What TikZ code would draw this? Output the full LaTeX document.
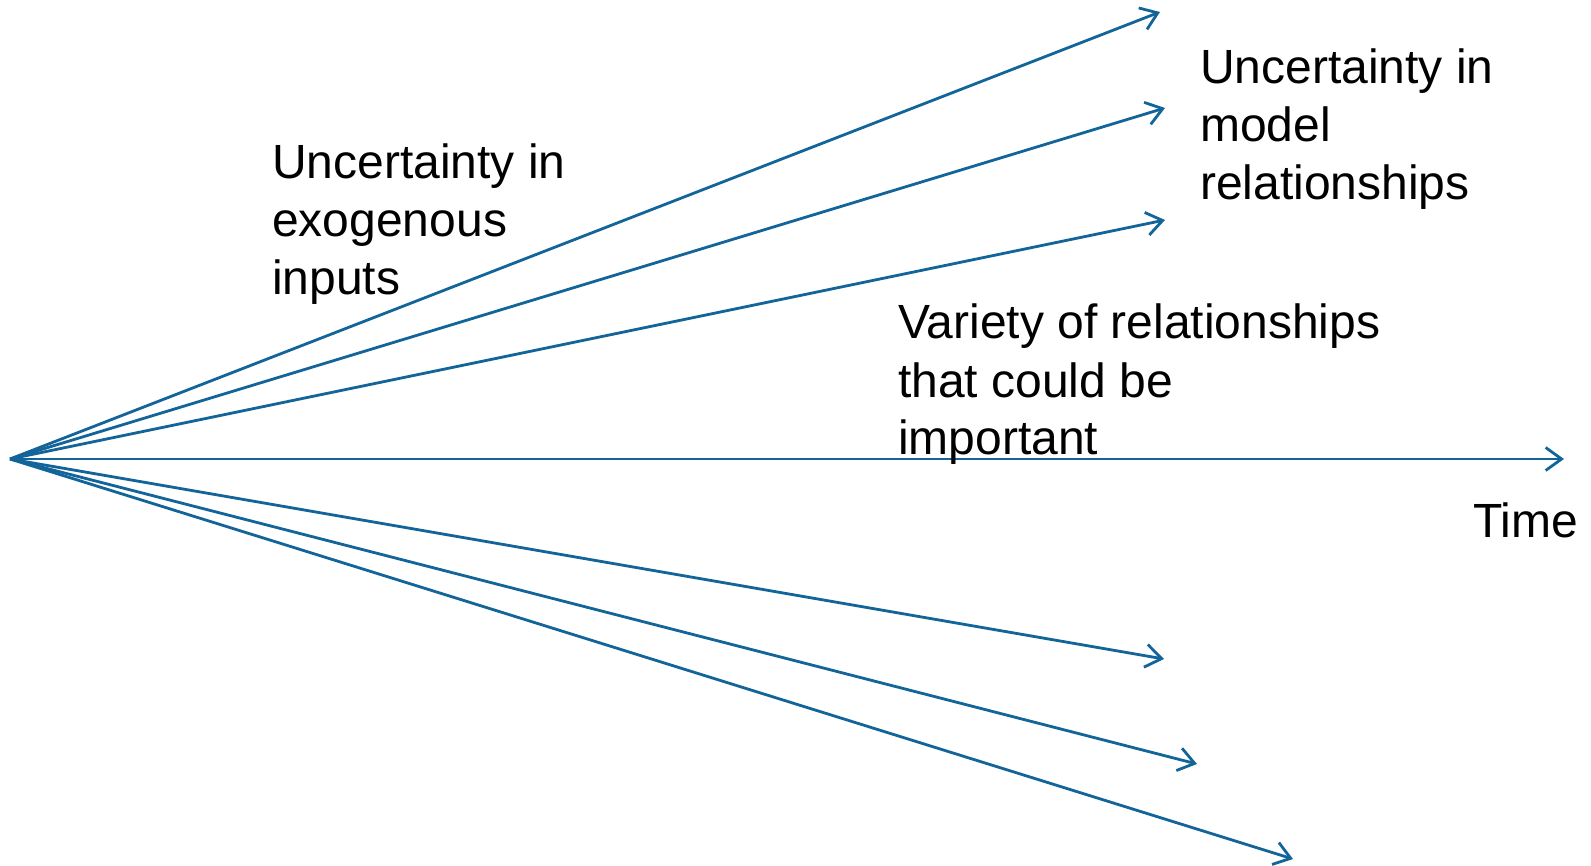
\documentclass[tikz,border=0pt]{standalone}
\usepackage{fontspec}
\setmainfont{Liberation Sans}
\usetikzlibrary{arrows.meta}
\definecolor{fanblue}{RGB}{18,100,153}
\tikzset{
  fanline/.style={draw=fanblue, line width=2.8pt,
    -{Straight Barb[length=16pt,width=23pt,line width=2.8pt]}},
  % anchored at the baseline of the last line
  label/.style={inner sep=0pt, anchor=base west, align=left,
    font=\fontsize{48}{58}\selectfont}
}
\begin{document}
\begin{tikzpicture}[x=1pt, y=-1pt]
  \useasboundingbox (0,0) rectangle (1591,866);
  % common starting point of the fan
  \coordinate (o) at (10,459);
  % arrow ends
  \coordinate (u1) at (1160,12);
  \coordinate (u2) at (1165,108);
  \coordinate (u3) at (1165,220);
  \coordinate (time) at (1564,459);
  \coordinate (d1) at (1164,659);
  \coordinate (d2) at (1197,764);
  \coordinate (d3) at (1293,859);
  \foreach \t in {u1,u2,u3,time,d1,d2,d3}
    \draw[fanline] (o) -- (\t);
  % labels
  \node[label] (exo) at (272,295) {Uncertainty in\\exogenous\\inputs};
  \node[label] (model) at (1200,200) {Uncertainty in\\model\\relationships};
  \node[label] (variety) at (898,455) {Variety of relationships\\that could be\\important};
  \node[label] (timelbl) at (1473,537) {Time};
\end{tikzpicture}
\end{document}
